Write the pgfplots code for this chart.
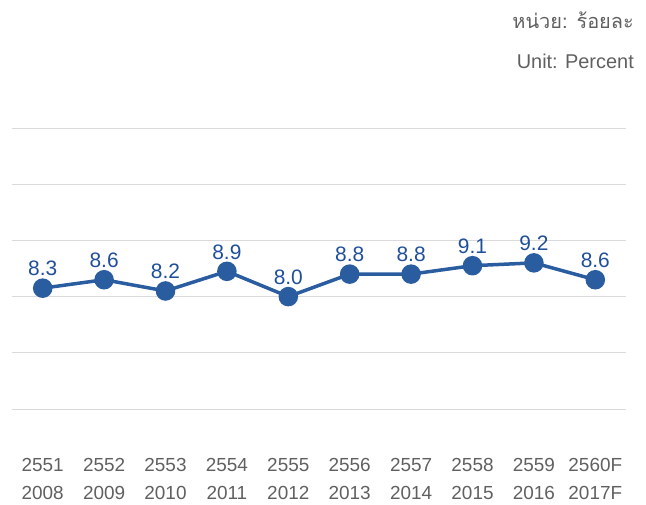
\documentclass[border=0pt]{standalone}
\usepackage{pgfplots}
\pgfplotsset{compat=1.18}
\usepackage{fontspec}
\setmainfont{Liberation Sans}
\newfontfamily\thaifont[Script=Thai]{Loma}
\definecolor{lineblue}{HTML}{2A5CA0}
\definecolor{lblblue}{HTML}{1F4F9A}
\definecolor{gridgray}{HTML}{DADADA}
\definecolor{txtgray}{HTML}{606060}
\begin{document}
\begin{tikzpicture}
\path[use as bounding box] (-12bp,-96bp) rectangle (634bp,409bp);
\begin{axis}[
  at={(0,0)}, anchor=south west,
  scale only axis, width=614bp, height=281bp,
  xmin=-0.5, xmax=9.5, ymin=4, ymax=14,
  axis line style={draw=none},
  ytick={4,6,8,10,12,14}, yticklabels={},
  ymajorgrids, grid style={gridgray, line width=0.8bp},
  major tick length=0pt,
  xtick={0,...,9},
  xticklabels={{2551\\2008},{2552\\2009},{2553\\2010},{2554\\2011},{2555\\2012},{2556\\2013},{2557\\2014},{2558\\2015},{2559\\2016},{2560F\\2017F}},
  xticklabel style={align=center, font=\fontsize{19}{28}\selectfont, text=txtgray, yshift=-46bp},
  clip=false,
]
\addplot[lineblue, line width=3.5bp, mark=*, mark size=8bp, mark options={fill=lineblue, draw=lineblue},
  nodes near coords, point meta=explicit symbolic,
  every node near coord/.style={anchor=south, yshift=7bp, font=\fontsize{21}{24}\selectfont, text=lblblue}]
  table[meta=lab] {
x y lab
0 8.3 8.3
1 8.6 8.6
2 8.2 8.2
3 8.9 8.9
4 8.0 8.0
5 8.8 8.8
6 8.8 8.8
7 9.1 9.1
8 9.2 9.2
9 8.6 8.6
};
\end{axis}
\node[anchor=east, text=txtgray, font=\thaifont\fontsize{20}{24}\selectfont, inner sep=0pt] at (622bp,389bp) {หน่วย: ร้อยละ};
\node[anchor=east, text=txtgray, font=\fontsize{20}{24}\selectfont, inner sep=0pt] at (622bp,348bp) {Unit: Percent};
\end{tikzpicture}
\end{document}
